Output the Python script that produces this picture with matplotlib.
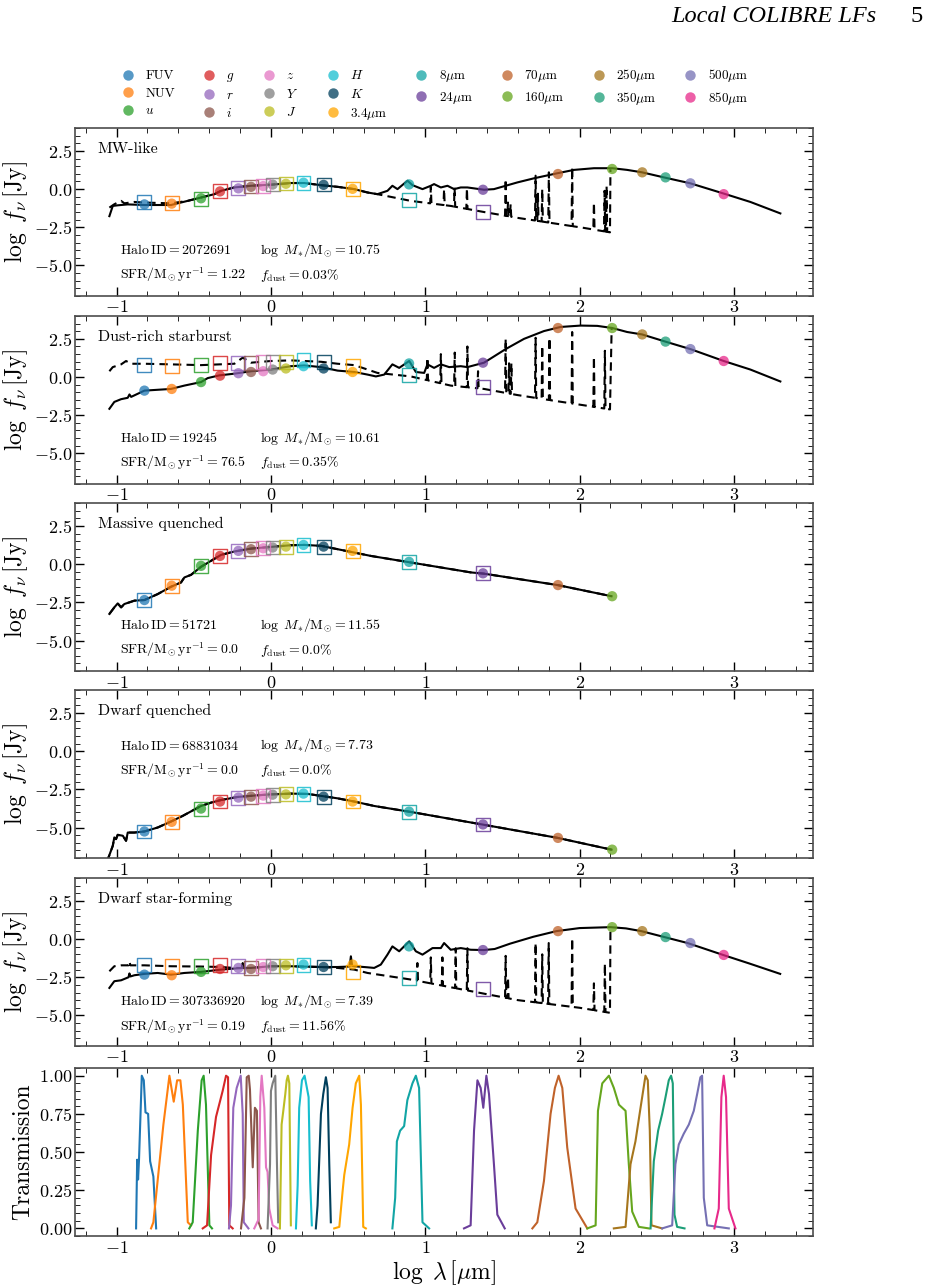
import numpy as np
import matplotlib
matplotlib.use('Agg')
import matplotlib.pyplot as plt
from matplotlib.lines import Line2D
from matplotlib.ticker import MultipleLocator

plt.rcParams.update({
    'font.family': 'serif',
    'font.serif': ['cmr10', 'DejaVu Serif'],
    'mathtext.fontset': 'cm',
    'axes.formatter.use_mathtext': True,
    'axes.unicode_minus': True,
    'xtick.direction': 'in', 'ytick.direction': 'in',
    'xtick.top': True, 'ytick.right': True,
    'xtick.minor.visible': True, 'ytick.minor.visible': True,
    'xtick.major.size': 6.5, 'ytick.major.size': 6.5,
    'xtick.minor.size': 3.5, 'ytick.minor.size': 3.5,
    'xtick.major.width': 1.0, 'ytick.major.width': 1.0,
    'xtick.major.pad': 2.5, 'ytick.major.pad': 2.0,
    'xtick.labelsize': 13, 'ytick.labelsize': 13,
})

# bands: label, log wavelength, colour
bands = ['FUV', 'NUV', '$u$', '$g$', '$r$', '$i$', '$z$', '$Y$', '$J$', '$H$', '$K$',
         r'$3.4\mu$m', r'$8\mu$m', r'$24\mu$m', r'$70\mu$m', r'$160\mu$m',
         r'$250\mu$m', r'$350\mu$m', r'$500\mu$m', r'$850\mu$m']
band_x = [-0.82, -0.643, -0.453, -0.33, -0.211, -0.129, -0.05, 0.011, 0.097, 0.211, 0.341,
          0.529, 0.895, 1.374, 1.86, 2.211, 2.406, 2.557, 2.718, 2.934]
band_colors = ['#1f77b4', '#ff7f0e', '#2ca02c', '#d62728', '#9467bd', '#8c564b', '#e377c2',
               '#7f7f7f', '#bcbd22', '#17becf', '#003f5c', '#ffa600', '#12a5a5', '#6a3d9a',
               '#c0622a', '#66a61e', '#a6761d', '#1b9e77', '#7570b3', '#e7298a']

# ---- MW-like ----
mw_solid = [(-1.047, -1.77), (-1.025, -1.10), (-0.993, -1.06), (-0.928, -1.0), (-0.82, -1.04),
            (-0.648, -1.04), (-0.54, -0.77), (-0.453, -0.55), (-0.367, -0.33), (-0.323, -0.11),
            (-0.237, 0.11), (-0.129, 0.22), (0.0, 0.29), (0.13, 0.40), (0.216, 0.40), (0.324, 0.26),
            (0.432, 0.15), (0.54, 0.0), (0.626, -0.22), (0.69, -0.33), (0.755, -0.11), (0.787, 0.22),
            (0.82, 0.0), (0.885, 0.55), (0.917, 0.26), (0.982, 0.0), (1.036, 0.22), (1.057, 0.33),
            (1.101, 0.11), (1.144, 0.22), (1.187, 0.0), (1.23, 0.11), (1.273, 0.11), (1.381, -0.04),
            (1.445, 0.0), (1.521, 0.22), (1.597, 0.44), (1.705, 0.71), (1.856, 1.04), (1.964, 1.26),
            (2.093, 1.37), (2.212, 1.37), (2.308, 1.26), (2.405, 1.10), (2.546, 0.77), (2.718, 0.38),
            (2.934, -0.29), (3.107, -0.84), (3.301, -1.59)]
mw_dash = [(-1.047, -1.21), (-1.015, -0.99), (-0.971, -0.77), (-0.95, -0.93), (-0.885, -0.84),
           (-0.82, -0.88), (-0.648, -0.93), (-0.54, -0.77), (-0.453, -0.55), (-0.367, -0.33),
           (-0.323, -0.11), (-0.237, 0.11), (-0.129, 0.22), (0.0, 0.29), (0.13, 0.40), (0.216, 0.40),
           (0.324, 0.26), (0.432, 0.15), (0.54, 0.0), (0.626, -0.22), (0.69, -0.33), (0.906, -0.77),
           (1.165, -1.10), (1.381, -1.50), (1.597, -1.88), (1.813, -2.21), (2.028, -2.54),
           (2.197, -2.83), (2.2, 1.3)]
mw_line_x = [1.036, 1.122, 1.19, 1.27, 1.521, 1.536, 1.553, 1.715, 1.73, 1.758, 1.801, 1.952, 2.093, 2.162, 2.175]
mw_line_peak = [0.15, 0.0, 0.1, 0.05, 0.66, -0.88, -1.0, 0.88, -0.3, 0.0, 1.1, 1.44, -0.88, -0.11, 0.22]
mw_circ = [-1.0, -0.95, -0.6, -0.15, 0.05, 0.15, 0.2, 0.3, 0.35, 0.42, 0.28, 0.02, 0.31, -0.04,
           0.99, 1.32, 1.10, 0.77, 0.38, -0.33]
mw_sq = [-0.84, -0.93, -0.62, -0.15, 0.07, 0.17, 0.22, 0.30, 0.37, 0.42, 0.30, 0.02, -0.71, -1.50]

# ---- Dust-rich starburst ----
sb_solid = [(-1.047, -2.08), (-1.015, -1.63), (-0.971, -1.45), (-0.928, -1.36), (-0.917, -1.14),
            (-0.906, -1.3), (-0.82, -0.89), (-0.648, -0.78), (-0.561, -0.56), (-0.453, -0.33),
            (-0.41, -0.07), (-0.334, 0.11), (-0.237, 0.22), (-0.129, 0.38), (0.0, 0.49), (0.13, 0.71),
            (0.216, 0.76), (0.324, 0.65), (0.432, 0.42), (0.54, 0.33), (0.626, 0.16), (0.68, 0.04),
            (0.734, 0.16), (0.787, 0.83), (0.831, 0.60), (0.896, 1.05), (0.939, 0.33), (0.993, 0.27),
            (1.014, 0.83), (1.057, 0.6), (1.101, 0.83), (1.155, 0.65), (1.23, 0.71), (1.273, 0.65),
            (1.381, 0.94), (1.521, 1.83), (1.64, 2.5), (1.769, 3.01), (1.877, 3.28), (2.007, 3.37),
            (2.115, 3.35), (2.212, 3.21), (2.308, 2.95), (2.405, 2.79), (2.556, 2.32), (2.718, 1.83),
            (2.934, 1.05), (3.107, 0.49), (3.301, -0.29)]
sb_dash = [(-1.047, 0.38), (-1.025, 0.65), (-0.971, 0.83), (-0.939, 1.05), (-0.906, 0.87),
           (-0.82, 0.87), (-0.648, 0.83), (-0.453, 0.78), (-0.237, 0.87), (-0.183, 1.27),
           (-0.129, 0.94), (0.0, 1.05), (0.13, 1.09), (0.324, 1.0), (0.432, 0.87), (0.54, 0.78),
           (0.626, 0.49), (0.69, 0.27), (0.906, 0.04), (1.165, -0.56), (1.381, -0.78),
           (1.597, -1.18), (1.813, -1.52), (2.028, -1.85), (2.197, -2.12), (2.208, 3.28)]
sb_line_x = [1.014, 1.101, 1.191, 1.273, 1.342, 1.521, 1.543, 1.558, 1.715, 1.758, 1.805, 1.952, 2.093, 2.164]
sb_line_peak = [1.27, 1.5, 1.6, 2.0, 0.38, 2.5, 0.9, 0.9, 2.57, 2.05, 2.57, 2.95, 1.34, 1.72]
sb_circ = [-0.89, -0.78, -0.33, 0.09, 0.25, 0.33, 0.38, 0.49, 0.56, 0.71, 0.56, 0.33, 0.89, 0.94,
           3.21, 3.21, 2.79, 2.32, 1.83, 1.05]
sb_sq = [0.78, 0.71, 0.80, 0.94, 0.94, 0.89, 0.98, 1.0, 1.0, 1.12, 1.0, 0.71, 0.16, -0.63]

# ---- Massive quenched ----
mq_sed = [(-1.047, -3.26), (-1.015, -2.83), (-0.993, -2.57), (-0.971, -2.83), (-0.95, -2.61),
          (-0.917, -2.5), (-0.885, -2.39), (-0.82, -2.35), (-0.734, -1.96), (-0.648, -1.48),
          (-0.583, -1.2), (-0.561, -0.87), (-0.518, -0.70), (-0.453, -0.17), (-0.388, 0.22),
          (-0.323, 0.61), (-0.237, 0.83), (-0.129, 1.02), (0.0, 1.13), (0.13, 1.24), (0.216, 1.26),
          (0.324, 1.20), (0.432, 0.98), (0.54, 0.76), (0.647, 0.54), (0.906, 0.11), (1.295, -0.54),
          (1.379, -0.62), (1.858, -1.37), (2.207, -2.1)]
mq_circ = [-2.35, -1.41, -0.11, 0.54, 0.87, 0.98, 1.04, 1.09, 1.15, 1.26, 1.15, 0.87, 0.15, -0.6, -1.37, -2.1]
mq_sq = [-2.35, -1.41, -0.11, 0.54, 0.87, 0.98, 1.04, 1.09, 1.15, 1.26, 1.15, 0.87, 0.15, -0.6]

# ---- Dwarf quenched ----
dq_sed = [(-1.065, -7.3), (-1.025, -6.2), (-1.015, -5.65), (-1.004, -5.76), (-0.993, -5.48),
          (-0.96, -5.54), (-0.939, -5.87), (-0.928, -5.33), (-0.885, -5.33), (-0.82, -5.26),
          (-0.734, -5.0), (-0.648, -4.61), (-0.572, -4.24), (-0.453, -3.59), (-0.388, -3.37),
          (-0.323, -3.2), (-0.216, -3.0), (-0.086, -2.89), (0.0, -2.83), (0.13, -2.78), (0.238, -2.8),
          (0.345, -2.96), (0.432, -3.09), (0.54, -3.30), (0.669, -3.59), (0.906, -3.98),
          (1.295, -4.67), (1.379, -4.82), (1.858, -5.68), (2.207, -6.45)]
dq_circ = [-5.26, -4.63, -3.76, -3.30, -3.04, -2.98, -2.91, -2.85, -2.83, -2.78, -2.98, -3.30,
           -3.96, -4.8, -5.68, -6.45]
dq_sq = [-5.26, -4.63, -3.76, -3.30, -3.04, -2.98, -2.91, -2.85, -2.83, -2.78, -2.98, -3.30, -3.96, -4.8]

# ---- Dwarf star-forming ----
ds_solid = [(-1.047, -3.2), (-1.015, -2.76), (-0.971, -2.70), (-0.923, -2.5), (-0.917, -2.25),
            (-0.911, -2.45), (-0.885, -2.37), (-0.82, -2.28), (-0.734, -2.22), (-0.648, -2.33),
            (-0.561, -2.22), (-0.453, -2.15), (-0.323, -2.0), (-0.237, -1.93), (-0.189, -1.9),
            (-0.183, -1.57), (-0.177, -1.9), (-0.129, -1.89), (0.0, -1.78), (0.13, -1.78),
            (0.324, -1.83), (0.432, -1.83), (0.51, -1.8), (0.518, -1.13), (0.526, -1.75),
            (0.54, -1.78), (0.626, -1.85), (0.669, -1.89), (0.712, -1.67), (0.755, -1.02),
            (0.787, -0.48), (0.831, -0.80), (0.896, -0.15), (0.939, -0.80), (0.982, -1.02),
            (1.047, -0.59), (1.101, -0.59), (1.122, -0.26), (1.165, -0.70), (1.23, -0.59),
            (1.295, -0.70), (1.38, -0.72), (1.45, -0.65), (1.55, -0.3), (1.7, 0.15), (1.85, 0.52),
            (2.0, 0.72), (2.2, 0.78), (2.3, 0.7), (2.4, 0.52), (2.55, 0.13), (2.7, -0.26),
            (2.93, -1.04), (3.1, -1.6), (3.3, -2.28)]
ds_dash = [(-1.047, -2.11), (-1.015, -1.78), (-0.971, -1.72), (-0.923, -1.72), (-0.917, -1.46),
           (-0.911, -1.72), (-0.82, -1.72), (-0.648, -1.78), (-0.453, -1.80), (-0.323, -1.83),
           (-0.237, -1.89), (-0.189, -1.9), (-0.183, -1.57), (-0.177, -1.9), (-0.129, -1.89),
           (0.0, -1.78), (0.13, -1.78), (0.324, -1.83), (0.432, -1.89), (0.54, -2.0),
           (0.626, -2.22), (0.906, -2.65), (1.295, -3.41), (1.6, -4.0), (2.0, -4.5),
           (2.197, -4.83), (2.2, 0.7)]
ds_line_x = [0.949, 1.036, 1.111, 1.197, 1.273, 1.521, 1.536, 1.715, 1.758, 1.80, 1.952, 2.093, 2.164]
ds_line_peak = [-1.57, -1.2, -1.2, -0.6, -0.6, -1.1, -2.5, -0.26, -1.0, -0.26, 0.06, -2.9, -1.6]
ds_circ = [-2.33, -2.37, -2.15, -1.96, -1.89, -1.96, -1.83, -1.78, -1.72, -1.67, -1.83, -1.67,
           -0.48, -0.72, 0.52, 0.78, 0.52, 0.13, -0.26, -1.04]
ds_sq = [-1.72, -1.78, -1.78, -1.67, -1.74, -1.89, -1.78, -1.74, -1.74, -1.67, -1.83, -2.15, -2.54, -3.26]

titles = ['MW-like', 'Dust-rich starburst', 'Massive quenched', 'Dwarf quenched', 'Dwarf star-forming']
halo_ids = ['2072691', '19245', '51721', '68831034', '307336920']
log_mstar = ['10.75', '10.61', '11.55', '7.73', '7.39']
sfrs = ['1.22', '76.5', '0.0', '0.0', '0.19']
fdust = ['0.03', '0.35', '0.0', '0.0', '11.56']

# transmission curves (log lambda, T)
trans = {
    'FUV': ([-0.874, -0.867, -0.861, -0.855, -0.837, -0.824, -0.813, -0.796, -0.783, -0.762, -0.744],
            [0.0, 0.45, 0.32, 0.45, 1.0, 0.97, 0.76, 0.75, 0.44, 0.34, 0.0]),
    'NUV': ([-0.777, -0.762, -0.697, -0.658, -0.630, -0.608, -0.587, -0.571, -0.539, -0.518],
            [0.0, 0.04, 0.68, 1.0, 0.83, 0.97, 0.97, 0.81, 0.04, 0.02]),
    'u': ([-0.529, -0.507, -0.474, -0.449, -0.436, -0.421, -0.399, -0.382],
          [0.0, 0.04, 0.64, 0.97, 1.0, 0.81, 0.02, 0.0]),
    'g': ([-0.442, -0.414, -0.388, -0.356, -0.313, -0.291, -0.278, -0.270, -0.248],
          [0.0, 0.02, 0.48, 0.73, 0.90, 1.0, 0.99, 0.02, 0.0]),
    'r': ([-0.272, -0.259, -0.244, -0.222, -0.196, -0.183, -0.176, -0.146],
          [0.0, 0.15, 0.79, 0.92, 1.0, 0.75, 0.04, 0.0]),
    'i': ([-0.194, -0.172, -0.157, -0.144, -0.136, -0.118, -0.104, -0.091, -0.080, -0.065],
          [0.0, 0.2, 0.99, 1.0, 0.91, 0.40, 0.79, 0.77, 0.04, 0.0]),
    'z': ([-0.108, -0.080, -0.069, -0.060, -0.043, -0.032, -0.022, -0.011, 0.011, 0.043],
          [0.0, 0.06, 0.86, 1.0, 0.79, 0.40, 0.37, 0.13, 0.02, 0.0]),
    'Y': ([-0.022, -0.006, 0.0, 0.011, 0.028, 0.039, 0.047],
          [0.0, 0.42, 0.90, 0.95, 1.0, 0.42, 0.04]),
    'J': ([0.058, 0.069, 0.080, 0.093, 0.102, 0.110, 0.119, 0.129],
          [0.0, 0.68, 0.77, 0.88, 0.97, 1.0, 0.95, 0.02]),
    'H': ([0.162, 0.173, 0.183, 0.201, 0.218, 0.233, 0.244, 0.254, 0.265],
          [0.0, 0.28, 0.79, 0.97, 1.0, 0.92, 0.86, 0.31, 0.02]),
    'K': ([0.291, 0.302, 0.324, 0.339, 0.356, 0.367, 0.378, 0.388],
          [0.0, 0.15, 0.75, 0.88, 0.99, 0.92, 0.42, 0.04]),
    '3.4': ([0.410, 0.443, 0.464, 0.475, 0.507, 0.529, 0.550, 0.572, 0.583, 0.598, 0.615],
            [0.0, 0.01, 0.24, 0.35, 0.55, 0.79, 0.95, 1.0, 0.81, 0.01, 0.0]),
    '8': ([0.787, 0.805, 0.816, 0.837, 0.863, 0.884, 0.917, 0.939, 0.960, 0.982, 1.025],
          [0.0, 0.2, 0.57, 0.64, 0.67, 0.84, 0.95, 1.0, 0.92, 0.04, 0.0]),
    '24': ([1.251, 1.294, 1.316, 1.338, 1.359, 1.376, 1.396, 1.413, 1.445, 1.467, 1.515],
           [0.0, 0.02, 0.64, 0.97, 0.92, 0.79, 1.0, 0.88, 0.42, 0.09, 0.0]),
    '70': ([1.694, 1.726, 1.769, 1.812, 1.840, 1.864, 1.888, 1.920, 1.974, 2.050],
           [0.0, 0.04, 0.31, 0.75, 0.92, 1.0, 0.92, 0.53, 0.13, 0.0]),
    '160': ([2.050, 2.104, 2.119, 2.147, 2.190, 2.222, 2.255, 2.298, 2.319, 2.341, 2.384, 2.449],
            [0.0, 0.02, 0.77, 0.95, 1.0, 0.92, 0.81, 0.77, 0.42, 0.11, 0.01, 0.0]),
    '250': ([2.222, 2.298, 2.330, 2.362, 2.395, 2.427, 2.442, 2.455, 2.466, 2.535],
            [0.0, 0.01, 0.42, 0.57, 0.79, 1.0, 0.97, 0.64, 0.02, 0.0]),
    '350': ([2.460, 2.481, 2.509, 2.535, 2.557, 2.578, 2.593, 2.604, 2.615, 2.632, 2.680],
            [0.0, 0.44, 0.64, 0.75, 0.86, 0.97, 1.0, 0.95, 0.09, 0.01, 0.0]),
    '500': ([2.535, 2.600, 2.621, 2.643, 2.675, 2.708, 2.740, 2.762, 2.783, 2.794, 2.805, 2.827, 2.967],
            [0.0, 0.02, 0.42, 0.55, 0.62, 0.68, 0.77, 0.88, 0.99, 1.0, 0.2, 0.02, 0.0]),
    '850': ([2.874, 2.902, 2.919, 2.934, 2.949, 2.967, 3.010],
            [0.0, 0.13, 0.86, 1.0, 0.86, 0.13, 0.0]),
}


def add_lines(cont, line_x, line_peak, w=0.004):
    cx, cy = np.array(cont).T
    lx = np.array(line_x)
    bx = np.concatenate([lx - w, lx + w])
    by = np.interp(bx, cx, cy)
    x = np.concatenate([cx, bx, lx])
    y = np.concatenate([cy, by, np.array(line_peak)])
    o = np.argsort(x, kind='stable')
    return x[o], y[o]


def style_axis(ax):
    for s in ax.spines.values():
        s.set_color('0.3')
        s.set_linewidth(1.2)
    ax.set_xlim(-1.27, 3.51)
    ax.xaxis.set_major_locator(MultipleLocator(1))
    ax.xaxis.set_minor_locator(MultipleLocator(0.2))


fig = plt.figure(figsize=(9.29, 12.87), dpi=100)
left, width, height = 0.0807, 0.794, 0.1305
bottoms = [0.770, 0.624, 0.4786, 0.3333, 0.1873]

solids = [np.array(mw_solid).T, np.array(sb_solid).T, np.array(mq_sed).T,
          np.array(dq_sed).T, np.array(ds_solid).T]
dashes = [add_lines(mw_dash, mw_line_x, mw_line_peak), add_lines(sb_dash, sb_line_x, sb_line_peak),
          np.array(mq_sed).T, np.array(dq_sed).T, add_lines(ds_dash, ds_line_x, ds_line_peak)]
circs = [mw_circ, sb_circ, mq_circ, dq_circ, ds_circ]
squares = [mw_sq, sb_sq, mq_sq, dq_sq, ds_sq]
info_y = [(0.275, 0.125), (0.275, 0.125), (0.275, 0.125), (0.67, 0.52), (0.265, 0.115)]

for k in range(5):
    ax = fig.add_axes([left, bottoms[k], width, height])
    style_axis(ax)
    ax.set_ylim(-7, 4)
    ax.yaxis.set_major_locator(MultipleLocator(2.5))
    ax.yaxis.set_minor_locator(MultipleLocator(0.5))
    ax.plot(*solids[k], color='k', lw=1.5, zorder=2)
    ax.plot(*dashes[k], color='k', lw=1.5, ls=(0, (4, 2.5)), zorder=2)
    nc = len(circs[k])
    ax.scatter(band_x[:nc], circs[k], c=band_colors[:nc], s=55, alpha=0.75, zorder=3, linewidths=0)
    ns = len(squares[k])
    ax.scatter(band_x[:ns], squares[k], marker='s', s=100, facecolors='none',
               edgecolors=band_colors[:ns], linewidths=1.0, alpha=0.85, zorder=4)
    ax.text(0.031, 0.875, titles[k], transform=ax.transAxes, fontsize=11.5, va='center')
    y1, y2 = info_y[k]
    ax.text(0.061, y1, r'$\mathrm{Halo\,ID} = %s$' % halo_ids[k], transform=ax.transAxes,
            fontsize=10, va='center')
    ax.text(0.251, y1, r'$\log\ M_{*}/\mathrm{M}_{\odot} = %s$' % log_mstar[k],
            transform=ax.transAxes, fontsize=10, va='center')
    ax.text(0.061, y2, r'$\mathrm{SFR}/\mathrm{M}_{\odot}\,\mathrm{yr}^{-1} = %s$' % sfrs[k],
            transform=ax.transAxes, fontsize=10, va='center')
    ax.text(0.251, y2, r'$f_\mathrm{dust} = %s\%%$' % fdust[k], transform=ax.transAxes,
            fontsize=10, va='center')
    ax.set_ylabel(r'$\log\ f_\nu\,[\mathrm{Jy}]$', fontsize=17, labelpad=3)

# transmission panel
ax = fig.add_axes([left, 0.0396, width, height])
style_axis(ax)
ax.set_ylim(-0.05, 1.05)
ax.yaxis.set_major_locator(MultipleLocator(0.25))
ax.yaxis.set_minor_locator(MultipleLocator(0.05))
for key, col in zip(trans, band_colors):
    tx, ty = trans[key]
    ax.plot(tx, ty, color=col, lw=1.5)
ax.set_ylabel('Transmission', fontsize=17, labelpad=3)
ax.set_xlabel(r'$\log\ \lambda\,[\mu\mathrm{m}]$', fontsize=17, labelpad=2)

handles = [Line2D([], [], marker='o', ls='', color=c, alpha=0.75, markersize=7.5, markeredgewidth=0)
           for c in band_colors]
fig.legend(handles, bands, ncol=8, loc='center', bbox_to_anchor=(0.468, 0.9265), frameon=False,
           fontsize=9.5, handlelength=1.0, handletextpad=0.8, columnspacing=2.1, labelspacing=0.4)

fig.text(0.944, 0.987, 'Local COLIBRE LFs', ha='right', va='center', fontsize=17.5,
         family='Liberation Serif', style='italic')
fig.text(0.987, 0.987, '5', ha='center', va='center', fontsize=17.5, family='Liberation Serif')

fig.savefig('out.png', dpi=100)
